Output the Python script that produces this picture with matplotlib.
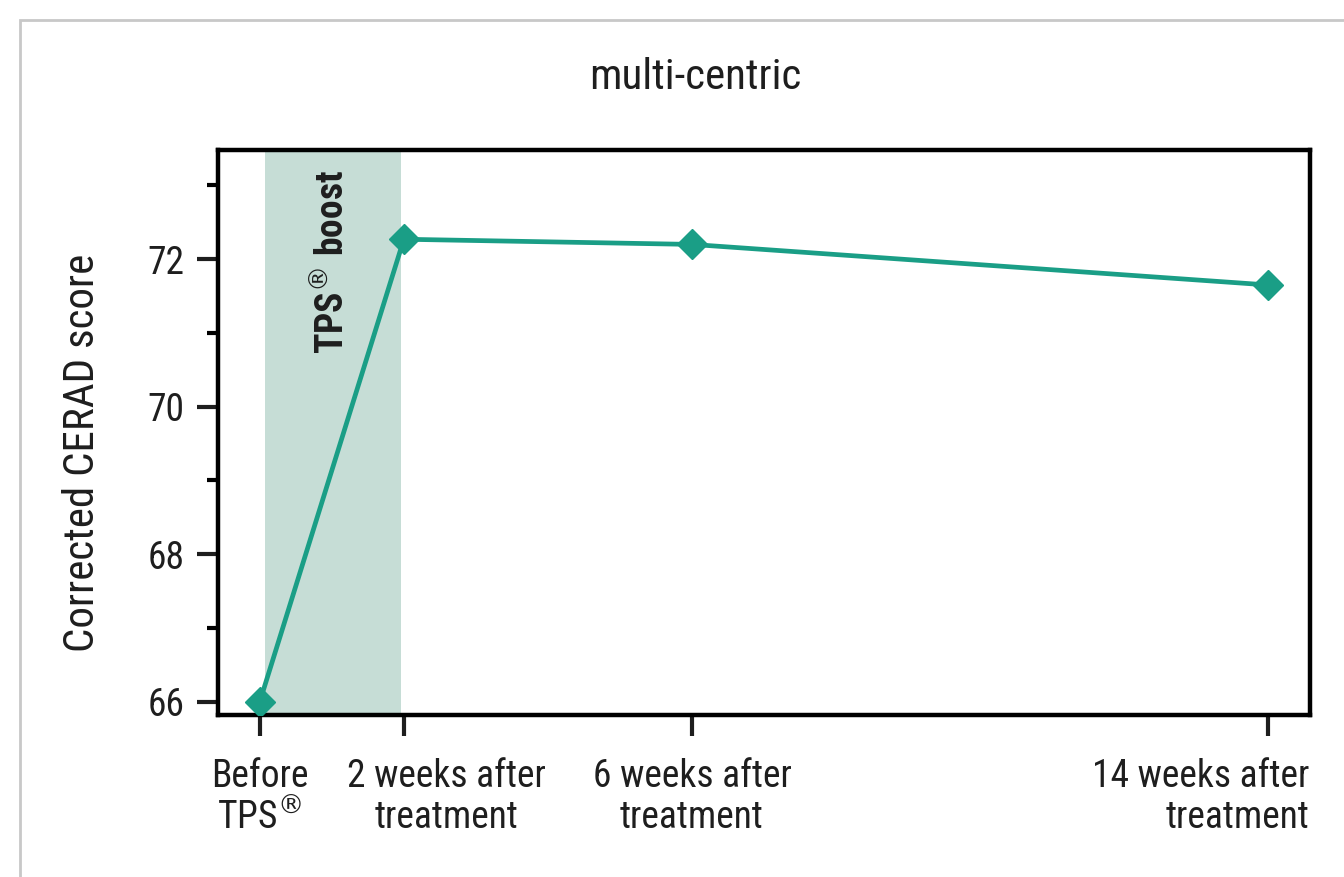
import matplotlib
matplotlib.use("Agg")
import matplotlib.pyplot as plt
import matplotlib.patches as mpatches
import matplotlib.transforms as mtransforms

# data
weeks = [0, 2, 6, 14]
scores = [66.0, 72.27, 72.2, 71.65]
tick_labels = ["Before\nTPS$^{\\circledR}$", "2 weeks after\ntreatment",
               "6 weeks after\ntreatment", "14 weeks after\ntreatment"]
boost_span = [0.07, 1.96]

plt.rcParams['font.family'] = ["Roboto Condensed", "Roboto", "DejaVu Sans"]
plt.rcParams['mathtext.fontset'] = "dejavusans"

teal = "#1a9e86"
shade = "#c6ddd6"
ink = "#1e1e1e"
fs = 27
fs_big = 31

fig = plt.figure(figsize=(13.44, 8.77), dpi=100)
ax = fig.add_axes([218 / 1344, 1 - 715 / 877, (1310 - 218) / 1344, (715 - 150) / 877])

# light gray frame around the whole panel
fig.patches.append(mpatches.Rectangle((20 / 1344, -0.1), 1.2, 1 - 20 / 877 + 0.1,
                                      transform=fig.transFigure, fill=False,
                                      edgecolor="#c8c8c8", linewidth=2))

ax.axvspan(boost_span[0], boost_span[1], color=shade, lw=0, zorder=0)
ax.plot(weeks, scores, color=teal, lw=3.4, marker="D", markersize=15,
        markeredgecolor=teal, zorder=3)

ax.text((boost_span[0] + boost_span[1]) / 2, 0.965, "TPS$^{\\circledR}$ boost", rotation=90,
        transform=ax.get_xaxis_transform(), ha="center", va="top",
        fontsize=fs, fontweight="bold", color=ink)

ax.set_xlim(-0.58, 14.58)
ax.set_ylim(65.82, 73.48)
ax.set_yticks([66, 68, 70, 72])
ax.set_yticks([67, 69, 71, 73], minor=True)
ax.set_xticks(weeks)
ax.set_xticklabels(tick_labels)

for s in ax.spines.values():
    s.set_linewidth(3.2)
ax.tick_params(axis="both", which="major", length=15, width=3, labelsize=fs, colors=ink)
ax.tick_params(axis="y", which="minor", length=8, width=3)
ax.tick_params(axis="x", pad=16)
ax.tick_params(axis="y", pad=9)

# shift some of the x tick labels like in the original layout
labels = ax.get_xticklabels()
labels[1].set_transform(labels[1].get_transform() + mtransforms.ScaledTranslation(0.43, 0, fig.dpi_scale_trans))
labels[3].set_horizontalalignment("right")
labels[3].set_multialignment("right")
labels[3].set_transform(labels[3].get_transform() + mtransforms.ScaledTranslation(0.41, 0, fig.dpi_scale_trans))
for lab in labels:
    lab.set_linespacing(1.15)

ax.set_ylabel("Corrected CERAD score", fontsize=fs_big, labelpad=32, color=ink,
              y=(715 - 453) / 565)
ax.set_title("multi-centric", fontsize=fs_big, pad=44, color=ink, x=(695 - 218) / 1092)

fig.savefig("out.png", dpi=100)
